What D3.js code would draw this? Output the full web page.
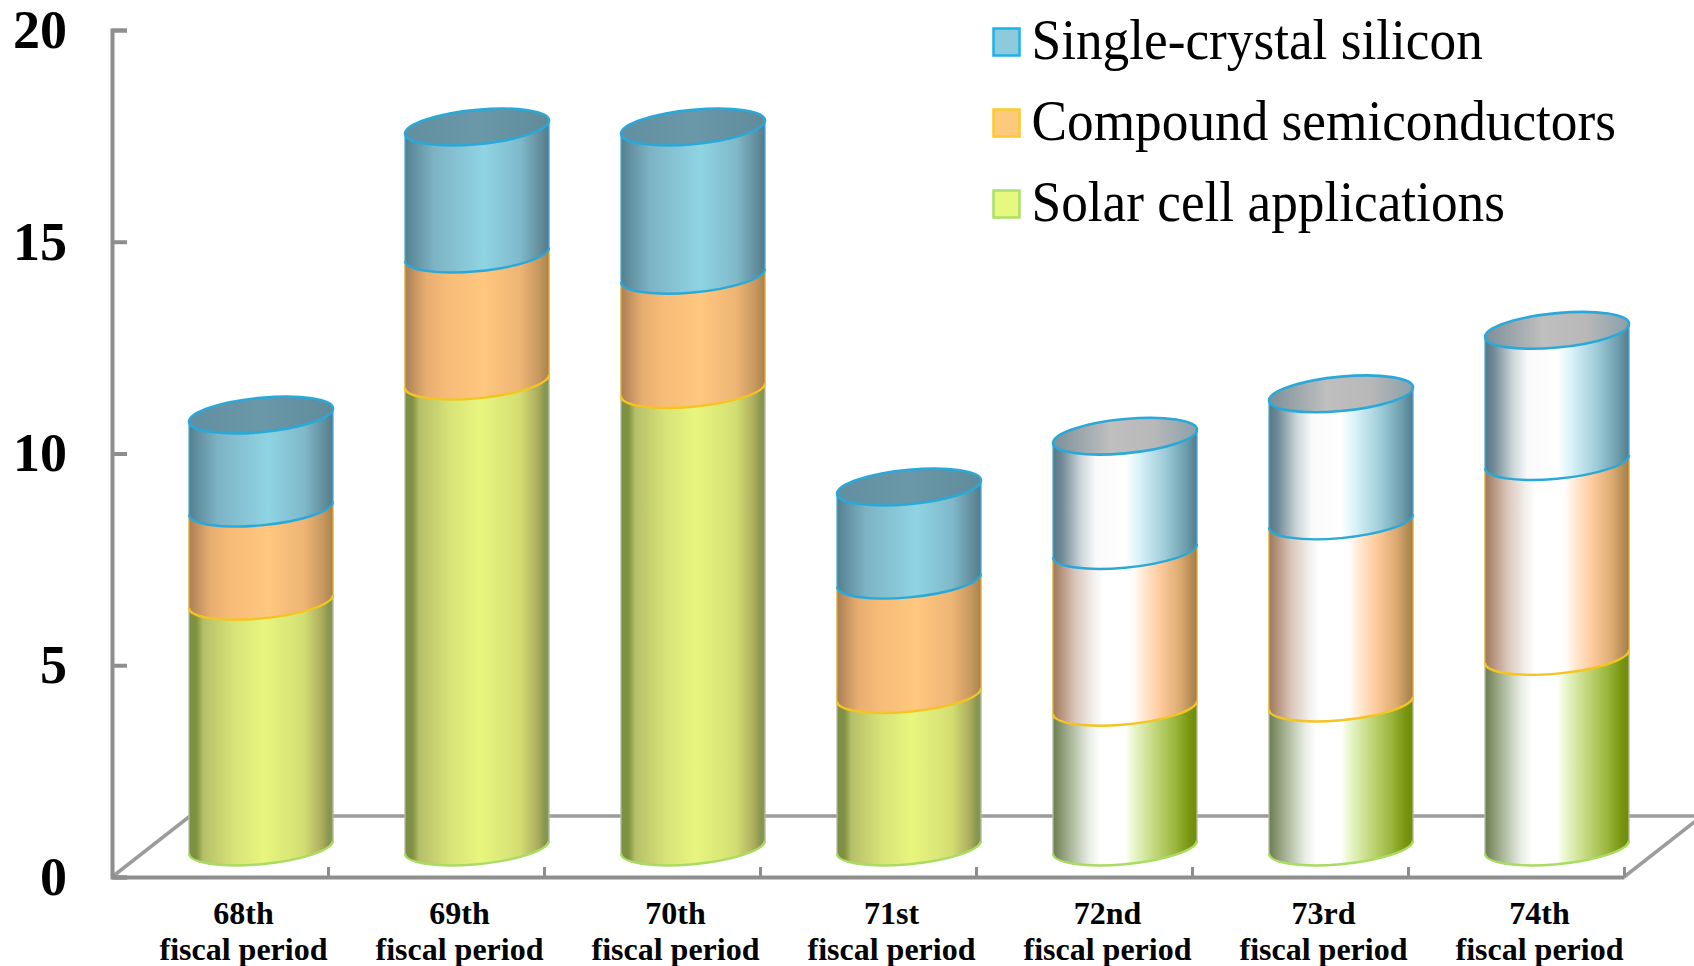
<!DOCTYPE html>
<html>
<head>
<meta charset="utf-8">
<script src="https://cdn.jsdelivr.net/npm/d3@7"></script>
<style>
  html, body { margin: 0; background: #fff; overflow: hidden; }
  svg { display: block; }
  text { font-family: "Liberation Serif", "Times New Roman", serif; fill: #000; }
</style>
</head>
<body>
<svg id="chart" width="1694" height="966"></svg>
<script>
// Stacked output by fiscal period
const periods = ["68th", "69th", "70th", "71st", "72nd", "73rd", "74th"];
const solarCell = [5.8, 11.0, 10.8, 3.6, 3.3, 3.4, 4.5];
const compound = [2.2, 3.0, 2.7, 2.7, 3.7, 4.3, 4.6];
const singleCrystal = [2.2, 3.0, 3.5, 2.2, 2.7, 3.0, 3.1];
const yTicks = [0, 5, 10, 15, 20];
const seriesNames = ["Single-crystal silicon", "Compound semiconductors", "Solar cell applications"];

// The last three periods are drawn with the bright metallic finish
const metallicFrom = 4;

const svg = d3.select("#chart");
const defs = svg.append("defs");

const y = d3.scaleLinear().domain([0, 20]).range([877, 30]);
const x = d3.scaleBand().domain(periods).range([112, 1624]);
const tickX = d3.scaleLinear().domain([0, 7]).range([112, 1624]);

// Projection of the floor and of the cylinder ends
const depth = { dx: 78, dy: 61 };
const cyl = { offset: 149, rx: 72, ry: 17.2, rise: 30, skew: 6.5 };

const finishes = {
  plain: {
    blue: [[0, "#4f7f90"], [0.05, "#5f8d9d"], [0.2, "#7db3c4"], [0.55, "#8fd4e4"], [0.8, "#7fb9ca"], [0.93, "#66909f"], [1, "#4f7c8c"]],
    orange: [[0, "#a97f52"], [0.05, "#c08f5f"], [0.15, "#e8ae70"], [0.3, "#f7bc78"], [0.55, "#ffc77f"], [0.8, "#edb474"], [0.93, "#c8985f"], [1, "#a8824f"]],
    green: [[0, "#7c8f45"], [0.05, "#7f9140"], [0.1, "#b5bf68"], [0.3, "#d6e277"], [0.52, "#e8f67f"], [0.8, "#d3de72"], [0.93, "#a9a95c"], [0.97, "#889650"], [1, "#889650"]],
    cap: [[0, "#628f9f"], [0.5, "#6b98a8"], [1, "#5f8b9b"]]
  },
  metallic: {
    blue: [[0, "#557886"], [0.06, "#6f8a96"], [0.2, "#d0d9dc"], [0.3, "#fafafa"], [0.5, "#ffffff"], [0.6, "#d8f2f8"], [0.78, "#9ccbd8"], [0.92, "#6f9fae"], [1, "#4e7c8c"]],
    orange: [[0, "#9e7a58"], [0.05, "#b39078"], [0.15, "#d9c4b8"], [0.28, "#f2efec"], [0.35, "#ffffff"], [0.55, "#ffffff"], [0.63, "#ffe8d0"], [0.75, "#fdc99a"], [0.88, "#dcab72"], [1, "#a37d48"]],
    green: [[0, "#6d7d50"], [0.12, "#a9b698"], [0.25, "#e8ede4"], [0.33, "#ffffff"], [0.5, "#ffffff"], [0.56, "#e9f6cc"], [0.7, "#c4d97e"], [0.85, "#9ab63c"], [0.95, "#78940f"], [1, "#6f8d0a"]],
    cap: [[0, "#7c8f99"], [0.4, "#bfbfbf"], [0.7, "#b8b8b8"], [1, "#8aa0aa"]]
  }
};

const layers = [
  { key: "green", name: seriesNames[2], values: solarCell, line: "#a9dc62", side: "#b3bba0", swatch: "#e6f97e", rim: "#addf6a" },
  { key: "orange", name: seriesNames[1], values: compound, line: "#f6c422", side: "#dda92a", swatch: "#fdc97d", rim: "#fdc92e" },
  { key: "blue", name: seriesNames[0], values: singleCrystal, line: "#2aa9d8", side: "#4fa9cc", swatch: "#8bcbda", rim: "#1fb1ea" }
];

Object.entries(finishes).forEach(([finish, ramps]) => {
  Object.entries(ramps).forEach(([part, stops]) => {
    const g = defs.append("linearGradient")
      .attr("id", `${finish}-${part}`)
      .attr("x1", 0).attr("x2", 1).attr("y1", 0).attr("y2", 0);
    stops.forEach(([o, c]) => g.append("stop").attr("offset", o).attr("stop-color", c));
  });
});

// Floor of the 3D plot
const floor = svg.append("g").attr("fill", "none").attr("stroke", "#9c9c9c").attr("stroke-width", 3.5);
const floorLine = d3.line();
floor.append("path").attr("d", floorLine([
  [tickX(0), y(0)], [tickX(0) + depth.dx, y(0) - depth.dy], [tickX(7) + depth.dx, y(0) - depth.dy], [tickX(7), y(0)]
]));

// Axes
const yAxis = d3.axisRight(y).tickValues(yTicks).tickSize(15).tickFormat("");
const yG = svg.append("g").attr("transform", `translate(${tickX(0)},0)`).call(yAxis);
const xAxis = d3.axisTop(tickX).tickValues(d3.range(1, 8)).tickSize(10).tickSizeOuter(0).tickFormat("");
const xG = svg.append("g").attr("transform", `translate(0,${y(0)})`).call(xAxis);
yG.selectAll("path,line").attr("stroke", "#8e8e8e").attr("stroke-width", 4);
xG.selectAll("path,line").attr("stroke", "#8e8e8e").attr("stroke-width", 4);
xG.selectAll("line").attr("stroke-width", 3);

svg.append("g").selectAll("text").data(yTicks).join("text")
  .attr("x", 67).attr("y", d => y(d)).attr("dy", "0.33em")
  .attr("text-anchor", "end")
  .attr("font-size", 54).attr("font-weight", 700)
  .text(d => d);

// Cylinders, stacked from the floor upwards
const levelY = (v) => y(v) - cyl.rise;
const frontArc = (v, dir) => dir > 0
  ? `A${cyl.rx},${cyl.ry} 0 0 0 ${cyl.rx},${levelY(v)}`
  : `A${cyl.rx},${cyl.ry} 0 0 1 ${-cyl.rx},${levelY(v)}`;

const rows = periods.map((p, i) => {
  let base = 0;
  const parts = layers.map(l => {
    const part = { layer: l, y0: base, y1: base + l.values[i] };
    base = part.y1;
    return part;
  });
  return { period: p, index: i, parts, total: base };
});

const columns = svg.append("g").selectAll("g").data(rows).join("g")
  .attr("transform", d => `matrix(1,${-cyl.skew / cyl.rx},0,1,${x(d.period) + cyl.offset},0)`);

columns.each(function (d) {
  const col = d3.select(this);
  const finish = d.index >= metallicFrom ? "metallic" : "plain";
  d.parts.forEach(p => {
    col.append("path")
      .attr("d", `M${-cyl.rx},${levelY(p.y1)}${frontArc(p.y1, 1)}L${cyl.rx},${levelY(p.y0)}${frontArc(p.y0, -1)}Z`)
      .attr("fill", `url(#${finish}-${p.layer.key})`);
    col.append("path")
      .attr("d", `M${-cyl.rx},${levelY(p.y1)}L${-cyl.rx},${levelY(p.y0)}M${cyl.rx},${levelY(p.y1)}L${cyl.rx},${levelY(p.y0)}`)
      .attr("fill", "none").attr("stroke", p.layer.side).attr("stroke-width", 1.6)
      .attr("stroke-opacity", 0.8);
    col.append("path")
      .attr("d", `M${-cyl.rx},${levelY(p.y0)}${frontArc(p.y0, 1)}`)
      .attr("fill", "none").attr("stroke", p.layer.line).attr("stroke-width", 2.4);
  });
  col.append("ellipse")
    .attr("cx", 0).attr("cy", levelY(d.total))
    .attr("rx", cyl.rx).attr("ry", cyl.ry)
    .attr("fill", `url(#${finish}-cap)`)
    .attr("stroke", "#2aa9d8").attr("stroke-width", 2.6);
});

// Period labels under the axis
const labels = svg.append("g").selectAll("text").data(periods).join("text")
  .attr("text-anchor", "middle")
  .attr("font-size", 32).attr("font-weight", 700)
  .attr("transform", d => `translate(${x(d) + 131.5},0)`);
labels.append("tspan").attr("x", 0).attr("y", 924).text(d => d);
labels.append("tspan").attr("x", 0).attr("y", 960).text("fiscal period");

// Legend
const legendOrder = [layers[2], layers[1], layers[0]];
const legend = svg.append("g").selectAll("g").data(legendOrder).join("g")
  .attr("transform", (d, i) => `translate(0,${i * 81})`);
legend.append("rect")
  .attr("x", 993.5).attr("y", 28.5).attr("width", 26).attr("height", 27)
  .attr("fill", d => d.swatch).attr("stroke", d => d.rim).attr("stroke-width", 2.5);
legend.append("text")
  .attr("transform", "translate(1031.5,59) scale(0.935,1)")
  .attr("font-size", 57)
  .text(d => d.name);
</script>
</body>
</html>
